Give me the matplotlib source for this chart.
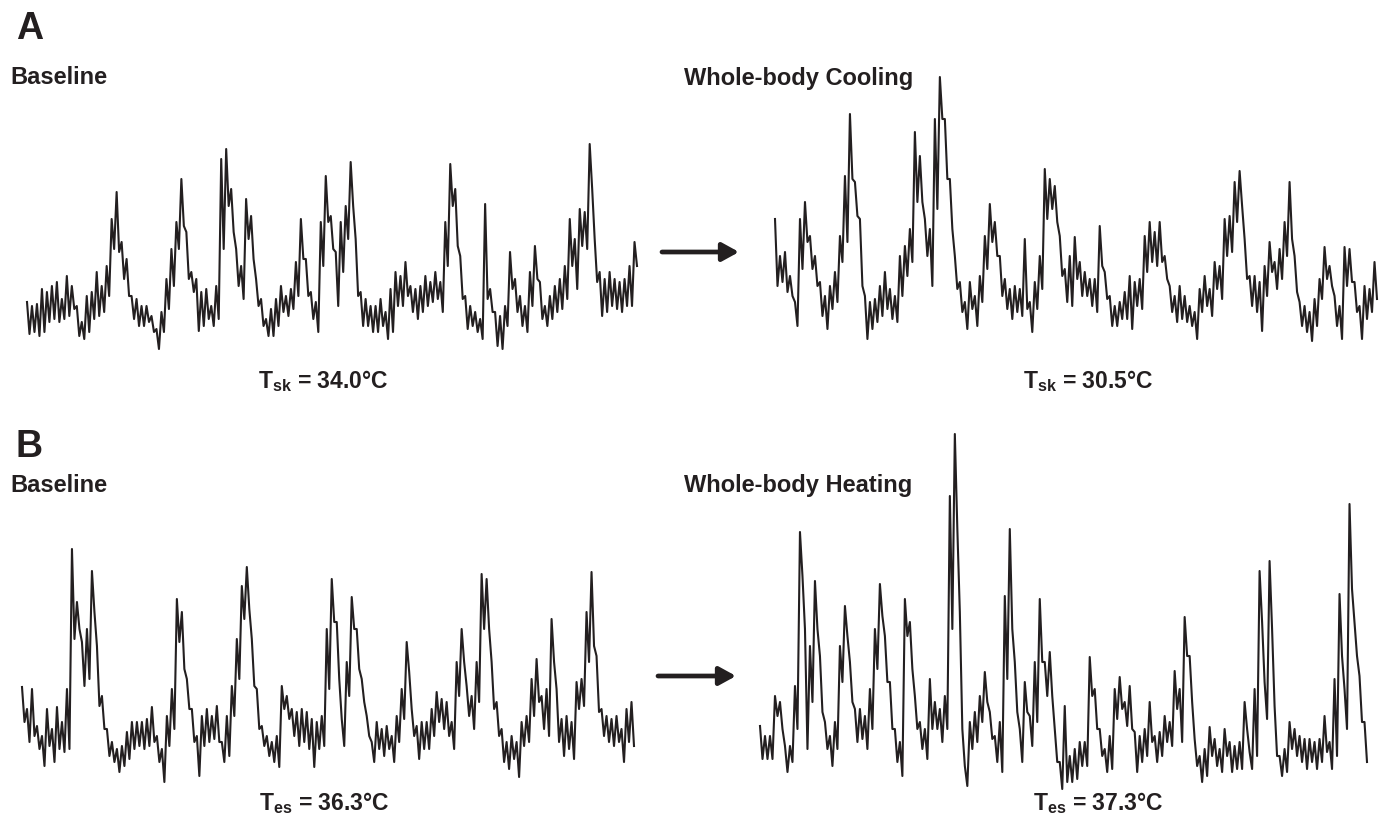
import numpy as np
import matplotlib
matplotlib.use("Agg")
import matplotlib.pyplot as plt
from matplotlib.patches import FancyArrowPatch

plt.rcParams["font.family"] = ["Liberation Sans", "DejaVu Sans"]
plt.rcParams["mathtext.fontset"] = "custom"
plt.rcParams["mathtext.bf"] = "Liberation Sans:bold"
plt.rcParams["mathtext.rm"] = "Liberation Sans:bold"

# skin SNA bursts, amplitude (a.u.) every ~5 px.
# each trace is kept as the top / bottom of the noisy band.

# A: baseline, Tsk 34.0
cool_base_hi = [57, 53, 55, 70, 67, 73, 77, 60, 83, 73,
                53, 37, 63, 67, 87, 73, 93, 140, 167, 117,
                100, 63, 60, 53, 53, 43, 30, 47, 80, 110,
                137, 180, 127, 87, 80, 67, 70, 53, 73, 200,
                210, 170, 110, 93, 160, 143, 80, 60, 40, 50,
                60, 73, 63, 70, 97, 140, 100, 67, 57, 137,
                183, 143, 107, 137, 153, 197, 120, 67, 60, 53,
                53, 60, 47, 70, 87, 83, 97, 73, 70, 73,
                83, 77, 87, 77, 137, 195, 170, 103, 63, 53,
                47, 40, 155, 70, 47, 43, 53, 107, 80, 63,
                53, 87, 113, 77, 53, 63, 73, 80, 93, 140,
                120, 150, 147, 215, 120, 87, 80, 87, 80, 77,
                80, 93, 117]
cool_base_lo = [25, 27, 23, 27, 37, 40, 37, 40, 43, 50,
                23, 20, 27, 40, 43, 47, 63, 110, 107, 80,
                63, 40, 33, 33, 37, 27, 10, 27, 50, 73,
                110, 133, 80, 67, 28, 33, 40, 33, 40, 110,
                153, 127, 73, 60, 120, 100, 53, 33, 23, 23,
                33, 47, 43, 50, 63, 100, 63, 40, 27, 93,
                137, 110, 53, 87, 120, 153, 63, 33, 33, 27,
                27, 33, 20, 27, 53, 53, 63, 47, 40, 47,
                53, 57, 60, 47, 93, 153, 113, 60, 30, 33,
                27, 20, 60, 47, 13, 10, 33, 70, 47, 33,
                27, 53, 80, 40, 33, 40, 47, 50, 60, 93,
                70, 113, 110, 170, 77, 43, 47, 53, 50, 47,
                53, 53, 93]

# A: whole-body cooling, Tsk 30.5
cool_whole_hi = [140, 103, 107, 83, 57, 140, 157, 123, 103, 77,
                 63, 73, 87, 123, 183, 245, 177, 140, 63, 57,
                 60, 73, 87, 70, 63, 103, 113, 130, 227, 203,
                 140, 130, 240, 282, 240, 180, 103, 77, 57, 77,
                 63, 83, 123, 155, 137, 103, 80, 70, 73, 70,
                 120, 57, 77, 103, 190, 180, 173, 123, 90, 103,
                 122, 97, 87, 80, 80, 133, 87, 63, 53, 57,
                 67, 83, 77, 80, 123, 137, 127, 137, 103, 73,
                 63, 73, 63, 53, 47, 70, 83, 70, 97, 93,
                 140, 143, 177, 188, 120, 83, 83, 77, 93, 117,
                 97, 110, 137, 177, 103, 57, 53, 47, 60, 80,
                 112, 93, 63, 53, 112, 110, 77, 53, 73, 70,
                 97]
cool_whole_lo = [73, 77, 67, 63, 33, 90, 117, 90, 73, 43,
                 30, 50, 57, 97, 117, 180, 143, 73, 20, 30,
                 37, 43, 50, 40, 37, 63, 83, 97, 157, 157,
                 103, 73, 150, 240, 180, 130, 70, 47, 30, 50,
                 33, 57, 90, 117, 103, 63, 50, 40, 47, 43,
                 50, 27, 50, 70, 140, 150, 137, 83, 57, 53,
                 80, 63, 63, 53, 47, 93, 60, 33, 33, 40,
                 40, 30, 53, 50, 87, 97, 93, 97, 80, 47,
                 37, 40, 37, 33, 20, 47, 53, 43, 70, 60,
                 103, 107, 137, 153, 80, 53, 47, 28, 63, 87,
                 70, 80, 103, 120, 67, 33, 27, 18, 33, 60,
                 80, 73, 33, 20, 73, 77, 47, 20, 40, 47,
                 60]

# B: baseline, Tes 36.3
heat_base_hi = [102, 80, 100, 63, 53, 80, 60, 82, 67, 100,
                240, 187, 147, 160, 218, 143, 93, 60, 47, 40,
                43, 57, 67, 67, 67, 70, 82, 53, 40, 73,
                100, 190, 177, 110, 80, 53, 73, 80, 73, 83,
                47, 73, 103, 150, 203, 222, 150, 100, 63, 53,
                47, 53, 103, 93, 80, 77, 80, 77, 70, 67,
                73, 160, 210, 167, 70, 127, 192, 160, 110, 73,
                47, 67, 60, 63, 53, 73, 100, 147, 80, 63,
                67, 67, 80, 97, 90, 87, 67, 127, 160, 103,
                93, 127, 215, 210, 127, 87, 60, 47, 53, 47,
                67, 73, 110, 130, 93, 100, 170, 100, 70, 73,
                67, 107, 110, 177, 217, 133, 80, 73, 70, 73,
                60, 80, 87]
heat_base_lo = [67, 47, 53, 40, 23, 43, 27, 40, 37, 40,
                150, 160, 103, 110, 177, 83, 60, 33, 27, 17,
                23, 30, 40, 43, 40, 43, 47, 27, 7, 43,
                60, 147, 120, 80, 47, 13, 43, 47, 50, 47,
                27, 33, 73, 110, 170, 180, 103, 60, 43, 33,
                27, 22, 80, 70, 53, 43, 47, 40, 22, 40,
                43, 100, 167, 110, 43, 93, 160, 120, 87, 53,
                27, 40, 33, 40, 27, 47, 70, 117, 53, 30,
                40, 40, 53, 67, 60, 53, 40, 93, 127, 73,
                60, 87, 160, 160, 80, 53, 27, 20, 30, 12,
                43, 47, 73, 87, 60, 53, 127, 47, 33, 40,
                30, 80, 83, 127, 143, 77, 53, 47, 43, 47,
                27, 47, 43]

# B: whole-body heating, Tes 37.3
heat_whole_hi = [63, 53, 53, 93, 87, 43, 43, 103, 257, 160,
                 143, 208, 133, 67, 53, 67, 143, 183, 127, 80,
                 80, 73, 100, 160, 205, 153, 107, 60, 47, 190,
                 167, 93, 67, 60, 110, 87, 80, 93, 293, 355,
                 177, 23, 67, 77, 93, 117, 77, 53, 67, 193,
                 260, 127, 60, 107, 73, 127, 190, 127, 137, 60,
                 27, 83, 33, 40, 47, 47, 132, 100, 60, 40,
                 53, 100, 112, 87, 103, 57, 53, 60, 87, 53,
                 57, 73, 67, 118, 100, 172, 133, 50, 33, 40,
                 62, 50, 40, 60, 47, 43, 47, 87, 37, 100,
                 218, 107, 228, 83, 33, 40, 67, 60, 53, 50,
                 50, 47, 50, 73, 47, 110, 195, 100, 285, 167,
                 113, 67]
heat_whole_lo = [30, 30, 30, 73, 60, 17, 27, 60, 213, 40,
                 87, 160, 77, 40, 23, 40, 107, 153, 87, 47,
                 50, 40, 60, 120, 173, 107, 60, 27, 13, 153,
                 120, 60, 40, 30, 60, 60, 47, 60, 160, 260,
                 60, 3, 40, 47, 67, 87, 50, 27, 17, 110,
                 160, 77, 27, 77, 43, 67, 127, 93, 93, 27,
                 0, 7, 7, 10, 23, 23, 93, 60, 33, 17,
                 20, 70, 80, 63, 60, 17, 27, 33, 47, 27,
                 33, 47, 43, 80, 47, 133, 87, 23, 7, 13,
                 33, 23, 17, 33, 17, 20, 20, 60, 20, 33,
                 167, 70, 160, 33, 13, 17, 40, 33, 27, 20,
                 27, 20, 27, 37, 20, 33, 133, 60, 200, 133,
                 67, 27]

W, H = 1380, 820
INK = "#231f20"

fig = plt.figure(figsize=(W / 100, H / 100), dpi=100)


def add_trace(hi, lo, left, right, base_y):
    # invisible axes placed in pixel units (y measured from the top)
    hi = np.asarray(hi, dtype=float)
    lo = np.asarray(lo, dtype=float)
    top = hi.max()
    ax = fig.add_axes([left / W, 1 - base_y / H,
                       (right - left) / W, top / H])
    t = np.arange(len(hi))
    xs = np.column_stack([t, t + 0.5]).ravel()
    ys = np.column_stack([hi, lo]).ravel()
    ax.plot(xs, ys, color=INK, lw=1.5, clip_on=False)
    ax.set_xlim(0, len(hi) - 0.5)
    ax.set_ylim(0, top)
    ax.axis("off")
    return ax


add_trace(cool_base_hi, cool_base_lo, 27, 637, 360)
add_trace(cool_whole_hi, cool_whole_lo, 775, 1377, 360)
add_trace(heat_base_hi, heat_base_lo, 22, 634, 790)
add_trace(heat_whole_hi, heat_whole_lo, 760, 1367, 790)


def px(x, y):
    return x / W, 1 - y / H


txt = dict(fontweight="bold", color=INK)
fig.text(*px(16, 29), "A", fontsize=27, va="center", ha="left", **txt)
fig.text(*px(16, 447), "B", fontsize=27, va="center", ha="left", **txt)
fig.text(*px(10, 78), "Baseline", fontsize=17, va="center", ha="left", **txt)
fig.text(*px(684, 78), "Whole-body Cooling", fontsize=17, va="center", ha="left", **txt)
fig.text(*px(10, 486), "Baseline", fontsize=17, va="center", ha="left", **txt)
fig.text(*px(684, 486), "Whole-body Heating", fontsize=17, va="center", ha="left", **txt)

fig.text(*px(323, 381), r"$\mathbf{T}_{\mathbf{sk}}$ = 34.0°C", fontsize=16.5,
         va="center", ha="center", **txt)
fig.text(*px(1088, 381), r"$\mathbf{T}_{\mathbf{sk}}$ = 30.5°C", fontsize=16.5,
         va="center", ha="center", **txt)
fig.text(*px(324, 803), r"$\mathbf{T}_{\mathbf{es}}$ = 36.3°C", fontsize=16.5,
         va="center", ha="center", **txt)
fig.text(*px(1098, 803), r"$\mathbf{T}_{\mathbf{es}}$ = 37.3°C", fontsize=16.5,
         va="center", ha="center", **txt)

arrow = dict(arrowstyle="-|>,head_length=1.0,head_width=0.55", lw=3.4,
             color=INK, mutation_scale=10, shrinkA=0, shrinkB=0,
             transform=fig.transFigure)
fig.add_artist(FancyArrowPatch(px(662, 253), px(739, 253), **arrow))
fig.add_artist(FancyArrowPatch(px(658, 677), px(736, 677), **arrow))

fig.savefig("out.png", dpi=100)
